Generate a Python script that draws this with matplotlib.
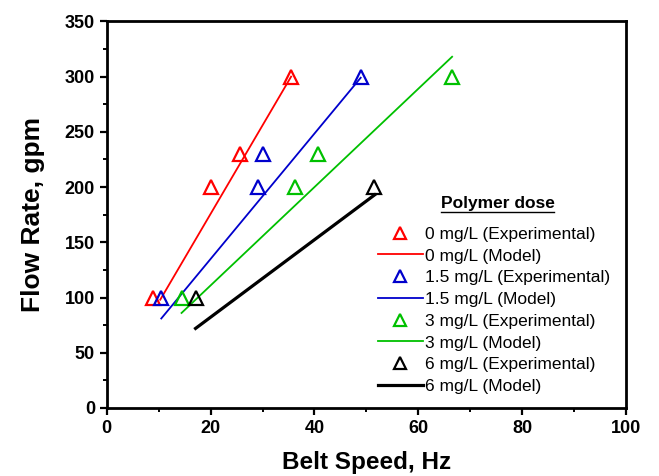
import matplotlib
matplotlib.use("Agg")
import matplotlib.pyplot as plt
from matplotlib.lines import Line2D
from matplotlib.ticker import MultipleLocator

plt.rcParams['font.family'] = ['Liberation Sans', 'DejaVu Sans']

# Experimental data
exp0_x = [9.0, 20.0, 25.6, 35.5]
exp0_y = [100, 200, 230, 300]
exp15_x = [10.5, 29.2, 30.1, 48.9]
exp15_y = [100, 200, 230, 300]
exp3_x = [14.4, 36.3, 40.7, 66.5]
exp3_y = [100, 200, 230, 300]
exp6_x = [17.1, 51.4]
exp6_y = [100, 200]

# Model lines
mod0_x = [10.3, 35.5]
mod0_y = [98, 300]
mod15_x = [10.5, 48.9]
mod15_y = [81, 299]
mod3_x = [14.4, 66.5]
mod3_y = [86, 318]
mod6_x = [17.1, 51.6]
mod6_y = [72, 193]

labels = ["0 mg/L (Experimental)", "0 mg/L (Model)",
          "1.5 mg/L (Experimental)", "1.5 mg/L (Model)",
          "3 mg/L (Experimental)", "3 mg/L (Model)",
          "6 mg/L (Experimental)", "6 mg/L (Model)"]

colors = ['#ff0000', '#0000cc', '#00c000', '#000000']

fig = plt.figure(figsize=(6.59, 4.76), dpi=100)
ax = fig.add_axes([0.162, 0.143, 0.788, 0.812])

exps = [(exp0_x, exp0_y), (exp15_x, exp15_y), (exp3_x, exp3_y), (exp6_x, exp6_y)]
mods = [(mod0_x, mod0_y), (mod15_x, mod15_y), (mod3_x, mod3_y), (mod6_x, mod6_y)]
lws = [1.3, 1.3, 1.3, 2.3]

handles = []
for (ex, ey), (mx, my), c, lw in zip(exps, mods, colors, lws):
    ax.plot(mx, my, color=c, lw=lw, zorder=2)
    ax.plot(ex, ey, ls='none', marker='^', markersize=10, mfc='none',
            mec=c, mew=1.6, zorder=3)
    handles.append(Line2D([], [], ls='none', marker='^', markersize=9,
                          mfc='none', mec=c, mew=1.6))
    handles.append(Line2D([], [], color=c, lw=lw))

ax.set_xlim(0, 100)
ax.set_ylim(0, 350)
ax.xaxis.set_major_locator(MultipleLocator(20))
ax.xaxis.set_minor_locator(MultipleLocator(10))
ax.yaxis.set_major_locator(MultipleLocator(50))
ax.yaxis.set_minor_locator(MultipleLocator(25))
ax.tick_params(which='major', direction='out', length=5, width=1.6,
               labelsize=13, top=False, right=False)
ax.tick_params(which='minor', direction='out', length=3, width=1.4,
               top=False, right=False)
for lab in ax.get_xticklabels() + ax.get_yticklabels():
    lab.set_fontweight('bold')
for s in ax.spines.values():
    s.set_linewidth(2)

ax.set_xlabel("Belt Speed, Hz", fontsize=17.5, fontweight='bold', labelpad=10)
ax.set_ylabel("Flow Rate, gpm", fontsize=19, fontweight='bold', labelpad=14)

leg = ax.legend(handles, labels, loc='lower left', bbox_to_anchor=(0.508, 0.018),
                frameon=False, fontsize=12.5, handlelength=2.6, handletextpad=0.12,
                labelspacing=0.38, borderaxespad=0)

fig.text(0.756, 0.5735, "Polymer dose", fontsize=12.5, fontweight='bold',
         ha='center', va='center')
fig.add_artist(Line2D([0.669, 0.841], [0.5546, 0.5546], color='black', lw=1.0,
                      transform=fig.transFigure))

fig.savefig("out.png", dpi=100)
